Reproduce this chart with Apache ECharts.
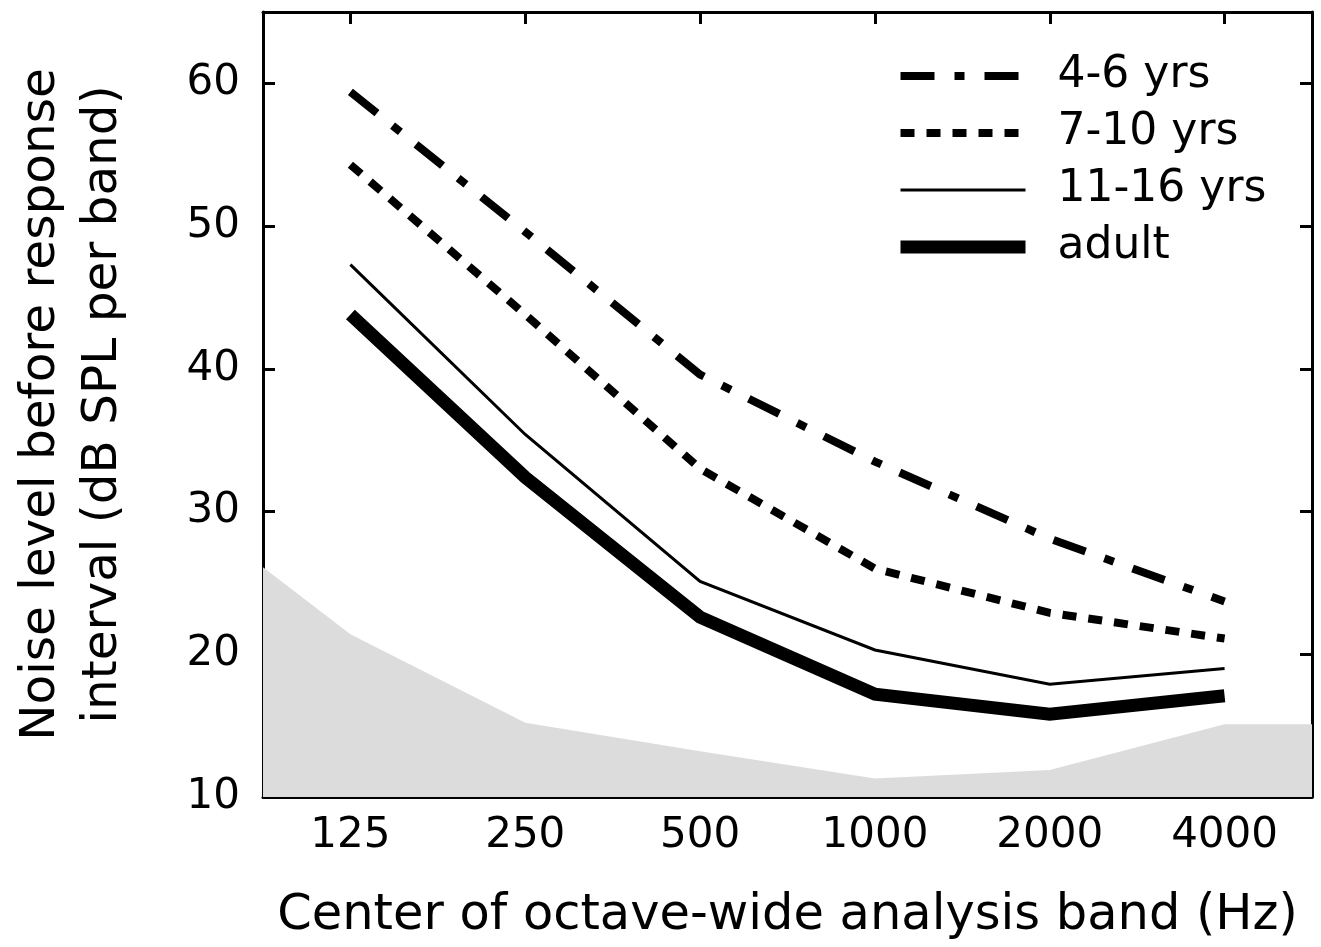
<!DOCTYPE html>
<html>
<head>
<meta charset="utf-8">
<script src="https://cdn.jsdelivr.net/npm/echarts@6/dist/echarts.min.js"></script>
<style>html,body{margin:0;padding:0;background:#fff}#c{width:1321px;height:947px}</style>
</head>
<body>
<div id="c"></div>
<script>
// Data
const freqLabels = ['125', '250', '500', '1000', '2000', '4000'];
const yrs4to6 = [59.4, 49.6, 39.6, 33.5, 28.1, 23.7];
const yrs7to10 = [54.3, 43.8, 33.0, 26.0, 22.9, 21.1];
const yrs11to16 = [47.3, 35.4, 25.1, 20.3, 17.9, 19.0];
const adult = [43.8, 32.4, 22.6, 17.2, 15.8, 17.1];
const floorX = [-0.5, 0, 1, 2, 3, 4, 5, 5.5];
const floorY = [26.1, 21.4, 15.2, 13.2, 11.3, 11.9, 15.1, 15.1];
const yTicks = [10, 20, 30, 40, 50, 60];

const FONT = 'DejaVu Sans';
const toPts = arr => arr.map((v, i) => [i, v]);
const tickIdx = freqLabels.map((_, i) => i);

const styles = {
  '4-6 yrs': { color: '#000', width: 8, type: [34, 20, 10, 20], cap: 'butt', join: 'miter' },
  '7-10 yrs': { color: '#000', width: 8, type: [14, 12], cap: 'butt', join: 'miter' },
  '11-16 yrs': { color: '#000', width: 3, type: 'solid', cap: 'butt', join: 'miter' },
  'adult': { color: '#000', width: 13, type: 'solid', cap: 'butt', join: 'miter' }
};
const seriesNames = ['4-6 yrs', '7-10 yrs', '11-16 yrs', 'adult'];
const seriesData = [yrs4to6, yrs7to10, yrs11to16, adult];

const xBase = {
  type: 'value', min: -0.5, max: 5.5,
  axisLine: { show: true, onZero: false, lineStyle: { color: '#000', width: 3 } },
  axisTick: { show: true, inside: true, length: 12, customValues: tickIdx, lineStyle: { color: '#000', width: 3 } },
  splitLine: { show: false }
};
const yBase = {
  type: 'value', min: 10, max: 65, interval: 10,
  axisLine: { show: true, onZero: false, lineStyle: { color: '#000', width: 3 } },
  axisTick: { show: true, inside: true, length: 12, customValues: yTicks, lineStyle: { color: '#000', width: 3 } },
  splitLine: { show: false }
};

const option = {
  animation: false,
  backgroundColor: '#fff',
  color: ['#000'],
  grid: { left: 263, right: 9, top: 12, bottom: 150, containLabel: false },
  legend: {
    orient: 'vertical', left: 889, top: 49,
    itemWidth: 125, itemHeight: 14, itemGap: 13,
    textStyle: { fontFamily: FONT, fontSize: 44, color: '#000', lineHeight: 44, padding: [0, 0, 0, 27] },
    data: seriesNames.map(n => ({
      name: n,
      itemStyle: { opacity: 0 },
      lineStyle: Object.assign({}, styles[n])
    }))
  },
  xAxis: [
    Object.assign({}, xBase, {
      position: 'bottom',
      name: 'Center of octave-wide analysis band (Hz)', nameLocation: 'middle', nameGap: 94,
      nameTextStyle: { fontFamily: FONT, fontSize: 49.5, color: '#000' },
      axisLabel: { show: true, customValues: tickIdx, margin: 18, fontFamily: FONT, fontSize: 42, color: '#000',
        formatter: v => freqLabels[Math.round(v)] }
    }),
    Object.assign({}, xBase, { position: 'top', axisLabel: { show: false } })
  ],
  yAxis: [
    Object.assign({}, yBase, {
      position: 'left',
      name: 'Noise level before response\ninterval (dB SPL per band)', nameLocation: 'middle', nameGap: 129,
      nameRotate: 90,
      nameTextStyle: { fontFamily: FONT, fontSize: 48.5, color: '#000', lineHeight: 62 },
      axisLabel: { show: true, customValues: yTicks, margin: 23, fontFamily: FONT, fontSize: 42, color: '#000' }
    }),
    Object.assign({}, yBase, { position: 'right', axisLabel: { show: false } })
  ],
  series: [
    {
      name: 'floor', type: 'line', xAxisIndex: 0, yAxisIndex: 0,
      data: floorX.map((x, i) => [x, floorY[i]]),
      symbol: 'none', lineStyle: { width: 0, opacity: 0 },
      areaStyle: { color: '#dcdcdc', opacity: 1, origin: 'start' },
      z: 1, silent: true
    }
  ].concat(seriesNames.map((n, k) => ({
    name: n, type: 'line', data: toPts(seriesData[k]), symbol: 'none', z: 5,
    itemStyle: { color: '#000' },
    lineStyle: styles[n]
  })))
};

const chart = echarts.init(document.getElementById('c'), null, { renderer: 'canvas' });
chart.setOption(option);
</script>
</body>
</html>
